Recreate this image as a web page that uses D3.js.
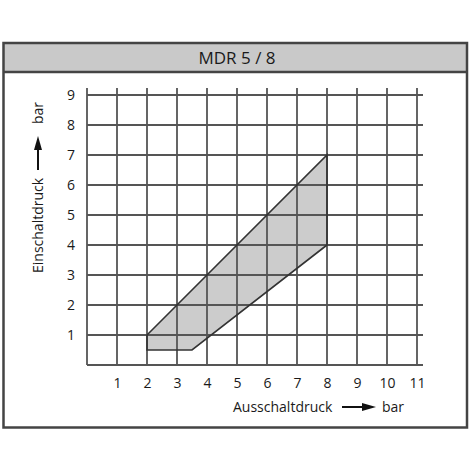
<!DOCTYPE html>
<html><head><meta charset="utf-8">
<script src="https://cdn.jsdelivr.net/npm/d3@7"></script>
<style>
body{margin:0;background:#fff;}
svg{display:block;}
text{font-family:"Open Sans",sans-serif;fill:#1a1a1a;}
</style></head>
<body>
<script>
const title = "MDR 5 / 8";
const xTicks = [1,2,3,4,5,6,7,8,9,10,11];
const yTicks = [1,2,3,4,5,6,7,8,9];
const regionX = [2, 8, 8, 3.5, 2];
const regionY = [1, 7, 4, 0.5, 0.5];
const xLabel = "Ausschaltdruck";
const yLabel = "Einschaltdruck";
const unit = "bar";

const W = 470, H = 470;
const svg = d3.select("body").append("svg").attr("width", W).attr("height", H);

const x = d3.scaleLinear().domain([0, 11]).range([87, 417]);
const y = d3.scaleLinear().domain([0, 9]).range([365, 95]);

// frame
svg.append("rect").attr("x", 3).attr("y", 43).attr("width", 464).attr("height", 29)
  .attr("fill", "#c9c9c9");
svg.append("rect").attr("x", 3.5).attr("y", 43).attr("width", 463.5).attr("height", 384.5)
  .attr("fill", "none").attr("stroke", "#444").attr("stroke-width", 2.5);
svg.append("line").attr("x1", 3).attr("x2", 467).attr("y1", 72).attr("y2", 72)
  .attr("stroke", "#444").attr("stroke-width", 2.5);
svg.append("text").attr("x", 237).attr("y", 64).attr("text-anchor", "middle")
  .style("font-size", "17px").text(title);

// region fill
const pts = regionX.map((v, i) => [x(v), y(regionY[i])]);
svg.append("polygon").attr("points", pts.map(p => p.join(",")).join(" "))
  .attr("fill", "#cccccc");

// grid
const g = svg.append("g").attr("stroke", "#555").attr("stroke-width", 1.8);
[0, ...xTicks].forEach(t => {
  g.append("line").attr("x1", x(t)).attr("x2", x(t)).attr("y1", y(9) - 7).attr("y2", y(0));
});
[0, ...yTicks].forEach(t => {
  g.append("line").attr("x1", x(0)).attr("x2", x(11) + 6).attr("y1", y(t)).attr("y2", y(t));
});

// region outline
svg.append("polygon").attr("points", pts.map(p => p.join(",")).join(" "))
  .attr("fill", "none").attr("stroke", "#333").attr("stroke-width", 1.6);

// axes labels
const xa = svg.append("g").attr("transform", `translate(0,${y(0)})`)
  .call(d3.axisBottom(x).tickValues(xTicks).tickSize(0).tickPadding(13).tickFormat(d3.format("d")));
xa.select(".domain").remove();
xa.selectAll("text").style("font-size", "14px").style("font-family", "Open Sans").attr("fill", "#1a1a1a");

const ya = svg.append("g").attr("transform", `translate(${x(0)},0)`)
  .call(d3.axisLeft(y).tickValues(yTicks).tickSize(0).tickPadding(12).tickFormat(d3.format("d")));
ya.select(".domain").remove();
ya.selectAll("text").style("font-size", "14px").style("font-family", "Open Sans").attr("fill", "#1a1a1a");

// x title
svg.append("text").attr("x", 233).attr("y", 412).style("font-size", "14px").text(xLabel);
svg.append("line").attr("x1", 342).attr("x2", 364).attr("y1", 407).attr("y2", 407)
  .attr("stroke", "#111").attr("stroke-width", 2);
svg.append("polygon").attr("points", "362,403 376,407 362,411").attr("fill", "#111");
svg.append("text").attr("x", 382).attr("y", 412).style("font-size", "14px").text(unit);

// y title
const yt = svg.append("g").attr("transform", "translate(43,0) rotate(-90)");
yt.append("text").attr("x", -273).attr("y", 0).style("font-size", "14px").text(yLabel);
yt.append("line").attr("x1", -170).attr("x2", -148).attr("y1", -5).attr("y2", -5)
  .attr("stroke", "#111").attr("stroke-width", 2);
yt.append("polygon").attr("points", "-150,-9 -136,-5 -150,-1").attr("fill", "#111");
yt.append("text").attr("x", -124).attr("y", 0).style("font-size", "14px").text(unit);
</script>
</body></html>
